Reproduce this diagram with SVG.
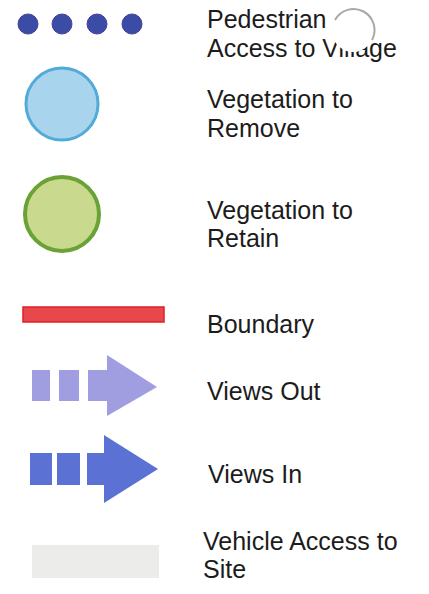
<svg xmlns="http://www.w3.org/2000/svg" width="429" height="594" viewBox="0 0 429 594">
<style>
  text { font-family: "Liberation Sans", Arial, sans-serif; font-size: 25px; fill: #1c1c1c; }
  .dot { fill: #3b4ca6; stroke: #4a3fa0; stroke-width: 1; }
  .out { fill: #a09ee0; }
  .in { fill: #5b72d4; }
</style>
<rect x="0" y="0" width="429" height="594" fill="#ffffff"/>

<g id="pedestrian">
  <circle class="dot" cx="28" cy="24" r="10"/>
  <circle class="dot" cx="62" cy="24" r="10"/>
  <circle class="dot" cx="97" cy="24" r="10"/>
  <circle class="dot" cx="132" cy="24" r="10"/>
  <text x="207" y="28">Pedestrian</text>
  <text x="207" y="57">Access to Village</text>
  <circle cx="353" cy="31" r="21" fill="#ffffff"/>
  <path d="M 335 20 A 21 21 0 0 1 372 40" fill="none" stroke="#a8a8a8" stroke-width="2"/>
</g>

<g id="veg-remove">
  <circle cx="62" cy="104" r="36" fill="#a8d4ee" stroke="#52aad8" stroke-width="3"/>
  <text x="207" y="108">Vegetation to</text>
  <text x="207" y="137">Remove</text>
</g>

<g id="veg-retain">
  <circle cx="62" cy="214" r="37" fill="#c9da8e" stroke="#6aa236" stroke-width="4"/>
  <text x="207" y="219">Vegetation to</text>
  <text x="207" y="247">Retain</text>
</g>

<g id="boundary">
  <rect x="23" y="307" width="141" height="15" fill="#e8474c" stroke="#e01f25" stroke-width="1.5"/>
  <text x="207" y="333">Boundary</text>
</g>

<g id="views-out">
  <rect class="out" x="32" y="370" width="18" height="31"/>
  <rect class="out" x="59" y="370" width="20" height="31"/>
  <rect class="out" x="88" y="370" width="21" height="31"/>
  <polygon class="out" points="107,355 157,387 107,416"/>
  <text x="207" y="400">Views Out</text>
</g>

<g id="views-in">
  <rect class="in" x="30" y="453" width="22" height="32"/>
  <rect class="in" x="57" y="453" width="23" height="32"/>
  <rect class="in" x="87" y="453" width="19" height="32"/>
  <polygon class="in" points="104,435 158,469 104,503"/>
  <text x="208" y="483">Views In</text>
</g>

<g id="vehicle">
  <rect x="32" y="545" width="127" height="33" fill="#ececea"/>
  <text x="203" y="550">Vehicle Access to</text>
  <text x="203" y="578">Site</text>
</g>
</svg>
